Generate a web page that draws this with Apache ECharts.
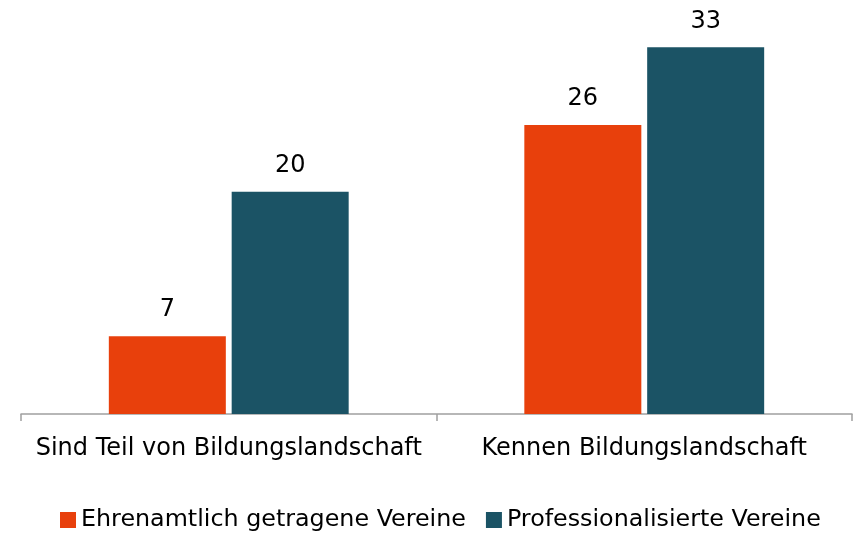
<!DOCTYPE html>
<html>
<head>
<meta charset="utf-8">
<script src="https://cdn.jsdelivr.net/npm/echarts@6/dist/echarts.min.js"></script>
<style>
html,body{margin:0;padding:0;background:#fff;}
#c{width:856px;height:533px;}
</style>
</head>
<body>
<div id="c"></div>
<script>
const categories = ['Sind Teil von Bildungslandschaft', 'Kennen Bildungslandschaft'];
const seriesNames = ['Ehrenamtlich getragene Vereine', 'Professionalisierte Vereine'];
const ehrenamtlich = [7, 26];
const professionell = [20, 33];

const FONT = 'DejaVu Sans';
const FS = 24;
const chart = echarts.init(document.getElementById('c'), null, {renderer: 'canvas'});
chart.setOption({
  animation: false,
  backgroundColor: '#ffffff',
  textStyle: {fontFamily: FONT},
  grid: {left: 21, right: 4, top: 14, bottom: 119, containLabel: false},
  legend: {
    data: seriesNames,
    left: 60, top: 508, padding: 0,
    icon: 'rect', itemWidth: 16, itemHeight: 16, itemGap: 20,
    textStyle: {fontFamily: FONT, fontSize: 23.8, color: '#000'}
  },
  xAxis: {
    type: 'category',
    data: categories,
    axisLine: {lineStyle: {color: '#a0a0a0', width: 1.5}},
    axisTick: {show: true, interval: 0, length: 7, lineStyle: {color: '#a0a0a0', width: 1.5}},
    axisLabel: {interval: 0, fontFamily: FONT, fontSize: FS, color: '#000', margin: 23}
  },
  yAxis: {
    type: 'value', min: 0, max: 36,
    show: false,
    splitLine: {show: false}
  },
  series: [
    {
      name: seriesNames[0], type: 'bar', data: ehrenamtlich,
      barWidth: 117, barGap: '5%',
      itemStyle: {color: '#e8400c'},
      label: {show: true, position: 'top', distance: 14, fontFamily: FONT, fontSize: FS, color: '#000'}
    },
    {
      name: seriesNames[1], type: 'bar', data: professionell,
      barWidth: 117, barGap: '5%',
      itemStyle: {color: '#1b5365'},
      label: {show: true, position: 'top', distance: 14, fontFamily: FONT, fontSize: FS, color: '#000'}
    }
  ]
});
</script>
</body>
</html>
